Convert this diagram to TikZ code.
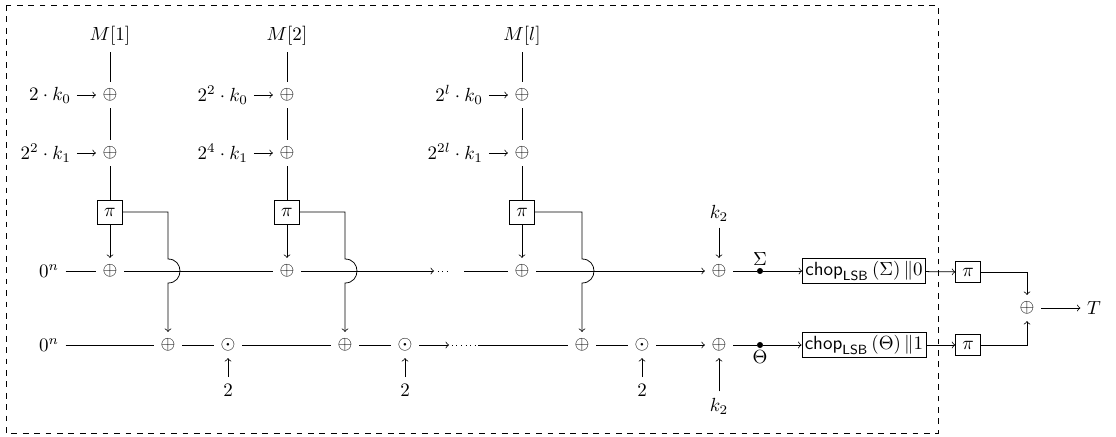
\documentclass[tikz,border=0pt]{standalone}
\usetikzlibrary{positioning}
\begin{document}
\begin{tikzpicture}[x=0.526pt,y=-0.526pt,>=to,
  lab/.style={inner sep=3pt},
  pbox/.style={draw,minimum width=13pt,minimum height=12.5pt,inner sep=1pt},
  chopbox/.style={draw,inner sep=1.5pt},
  dot/.style={circle,fill,inner sep=0pt,minimum size=3.2pt}]
\useasboundingbox (0,0) rectangle (1116,436);
\draw[dashed] (6,5) rectangle (938,433);
% first block
\node (m1) at (110,36) {$M[1]$};
\node (x11) at (110,95) {$\oplus$};
\node (x12) at (110,153) {$\oplus$};
\node[pbox] (p1) at (110,212) {$\pi$};
\node (t1) at (110,271) {$\oplus$};
\node (b1) at (168,345) {$\oplus$};
\node (d1) at (228,345) {$\odot$};
\node (n1) at (228,390) {$2$};
\node[lab,left=10pt of x11] (a11) {$2\cdot k_0$};
\node[lab,left=10pt of x12] (a12) {$2^2\cdot k_1$};
\coordinate (h1) at (168,259);
\draw (m1) -- (x11) -- (x12) -- (p1);
\draw[->] (a11) -- (x11);
\draw[->] (a12) -- (x12);
\draw[->] (p1) -- (t1);
\draw[->] (p1.east) -| (h1) .. controls +(16,0) and +(16,0) .. ++(0,24) -- (b1);
\draw[->] (n1) -- (d1);
% second block
\node (m2) at (287,36) {$M[2]$};
\node (x21) at (287,95) {$\oplus$};
\node (x22) at (287,153) {$\oplus$};
\node[pbox] (p2) at (287,212) {$\pi$};
\node (t2) at (287,271) {$\oplus$};
\node (b2) at (345,345) {$\oplus$};
\node (d2) at (405,345) {$\odot$};
\node (n2) at (405,390) {$2$};
\node[lab,left=10pt of x21] (a21) {$2^2\cdot k_0$};
\node[lab,left=10pt of x22] (a22) {$2^4\cdot k_1$};
\coordinate (h2) at (345,259);
\draw (m2) -- (x21) -- (x22) -- (p2);
\draw[->] (a21) -- (x21);
\draw[->] (a22) -- (x22);
\draw[->] (p2) -- (t2);
\draw[->] (p2.east) -| (h2) .. controls +(16,0) and +(16,0) .. ++(0,24) -- (b2);
\draw[->] (n2) -- (d2);
% last block
\node (ml) at (522,36) {$M[l]$};
\node (xl1) at (522,95) {$\oplus$};
\node (xl2) at (522,153) {$\oplus$};
\node[pbox] (pl) at (522,212) {$\pi$};
\node (tl) at (522,271) {$\oplus$};
\node (bl) at (582,345) {$\oplus$};
\node (dl) at (642,345) {$\odot$};
\node (nl) at (642,390) {$2$};
\node[lab,left=10pt of xl1] (al1) {$2^l\cdot k_0$};
\node[lab,left=10pt of xl2] (al2) {$2^{2l}\cdot k_1$};
\coordinate (hl) at (582,259);
\draw (ml) -- (xl1) -- (xl2) -- (pl);
\draw[->] (al1) -- (xl1);
\draw[->] (al2) -- (xl2);
\draw[->] (pl) -- (tl);
\draw[->] (pl.east) -| (hl) .. controls +(16,0) and +(16,0) .. ++(0,24) -- (bl);
\draw[->] (nl) -- (dl);
% the two rows
\node (z1) at (49,271) {$0^n$};
\node (z2) at (49,345) {$0^n$};
\coordinate (e1) at (434,271);
\coordinate (e2) at (451,271);
\coordinate (e3) at (464,271);
\coordinate (e4) at (449,345);
\coordinate (e5) at (478,345);
\draw (z1) -- (t1) -- (t2);
\draw[->] (t2) -- (e1);
\draw[dotted] ([xshift=2pt]e1) -- (e2);
\draw (e3) -- (tl);
\draw (z2) -- (b1) -- (d1) -- (b2) -- (d2);
\draw[->] (d2) -- (e4);
\draw[dotted] ([xshift=1.5pt]e4) -- (e5);
\draw (e5) -- (bl) -- (dl);
% finalisation
\node (f1) at (719,271) {$\oplus$};
\node (f2) at (719,345) {$\oplus$};
\node (k2a) at (719,213) {$k_2$};
\node (k2b) at (719,406) {$k_2$};
\node[dot,label={[inner sep=1pt]above:$\Sigma$}] (s1) at (760,271) {};
\node[dot,label={[inner sep=1pt]below:$\Theta$}] (s2) at (760,345) {};
\node[chopbox] (c1) at (864,271) {$\mathsf{chop}_{\mathsf{LSB}}\left(\Sigma\right)\|0$};
\node[chopbox] (c2) at (864,345) {$\mathsf{chop}_{\mathsf{LSB}}\left(\Theta\right)\|1$};
\node[pbox,minimum height=11pt] (q1) at (968,272) {$\pi$};
\node[pbox,minimum height=11pt] (q2) at (968,345) {$\pi$};
\node (fin) at (1027,308) {$\oplus$};
\node (T) at (1094,308) {$T$};
\draw[->] (tl) -- (f1);
\draw[->] (dl) -- (f2);
\draw[->] (k2a) -- (f1);
\draw[->] (k2b) -- (f2);
\draw (f1) -- (s1);
\draw (f2) -- (s2);
\draw[->] (s1) -- (c1);
\draw[->] (s2) -- (c2);
\draw[->] (c1) -- (q1);
\draw[->] (c2) -- (q2);
\draw[->] (q1) -| (fin);
\draw[->] (q2) -| (fin);
\draw[->] (fin) -- (T);
\end{tikzpicture}
\end{document}
